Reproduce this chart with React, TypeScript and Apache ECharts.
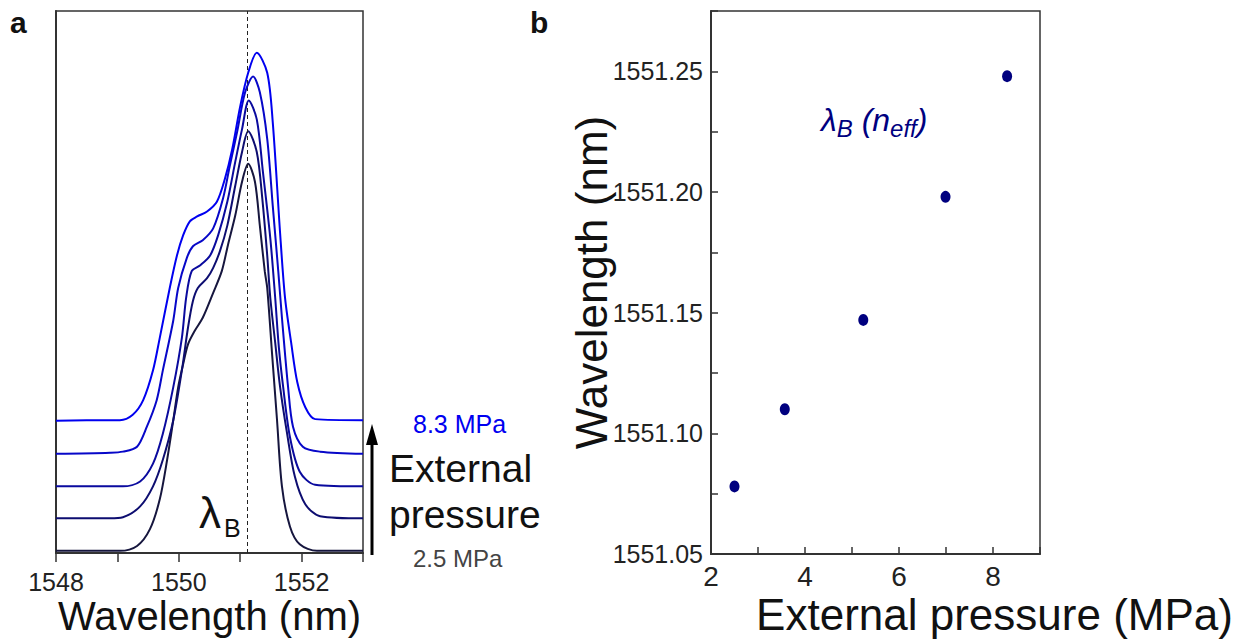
import React, { useEffect, useRef } from 'react';
import * as echarts from 'echarts';

// Panel a: reflection spectra (wavelength nm, arbitrary vertically offset intensity)
const spec25: [number, number][] = [
  [1548.0, 0.4], [1548.88, 0.4], [1549.04, 0.4], [1549.32, 1.3], [1549.53, 4.4], [1549.69, 9.9],
  [1549.81, 17.2], [1549.91, 24.5], [1549.99, 30.6], [1550.07, 34.8], [1550.15, 38.5], [1550.26, 41.0],
  [1550.39, 43.4], [1550.56, 48.0], [1550.7, 52.0], [1550.8, 56.8], [1550.92, 62.3], [1551.03, 68.5],
  [1551.13, 71.8], [1551.24, 68.5], [1551.32, 60.4], [1551.4, 52.0], [1551.44, 48.9], [1551.52, 36.6],
  [1551.6, 24.5], [1551.68, 12.3], [1551.81, 4.9], [1551.97, 1.6], [1552.25, 0.4], [1553.0, 0.4],
];
const spec36: [number, number][] = [
  [1548.0, 6.4], [1548.88, 6.4], [1549.09, 6.6], [1549.37, 8.6], [1549.58, 12.3], [1549.74, 17.2],
  [1549.91, 24.5], [1550.05, 33.7], [1550.15, 41.6], [1550.23, 46.5], [1550.31, 48.9], [1550.46, 50.7],
  [1550.56, 52.6], [1550.67, 55.7], [1550.79, 60.4], [1550.92, 67.8], [1551.03, 74.0], [1551.13, 77.8],
  [1551.27, 74.0], [1551.36, 65.4], [1551.44, 54.9], [1551.49, 47.1], [1551.57, 38.8], [1551.65, 30.6],
  [1551.76, 22.3], [1551.89, 14.1], [1552.06, 9.0], [1552.3, 6.8], [1553.0, 6.4],
];
const spec52: [number, number][] = [
  [1548.0, 12.3], [1548.88, 12.3], [1549.09, 12.3], [1549.37, 13.2], [1549.58, 16.5], [1549.74, 22.0],
  [1549.91, 30.6], [1550.05, 39.7], [1550.12, 47.1], [1550.21, 52.0], [1550.35, 53.1], [1550.51, 54.9],
  [1550.64, 58.6], [1550.79, 64.8], [1550.92, 72.2], [1551.03, 78.2], [1551.14, 83.5], [1551.27, 80.0],
  [1551.37, 70.3], [1551.49, 58.1], [1551.57, 47.1], [1551.63, 37.9], [1551.7, 30.6], [1551.81, 21.4],
  [1551.97, 15.0], [1552.22, 12.6], [1553.0, 12.3],
];
const spec70: [number, number][] = [
  [1548.0, 18.3], [1548.88, 18.5], [1549.09, 18.7], [1549.32, 19.6], [1549.48, 23.3], [1549.64, 28.2],
  [1549.74, 33.7], [1549.91, 42.9], [1549.99, 48.9], [1550.13, 54.4], [1550.23, 56.6], [1550.39, 57.7],
  [1550.56, 59.9], [1550.72, 65.4], [1550.83, 71.4], [1550.95, 77.7], [1551.08, 85.0], [1551.21, 87.9],
  [1551.32, 85.0], [1551.44, 76.4], [1551.53, 64.1], [1551.62, 52.0], [1551.68, 43.4], [1551.78, 30.6],
  [1551.86, 23.3], [1552.02, 19.6], [1552.3, 18.7], [1553.0, 18.3],
];
const spec83: [number, number][] = [
  [1548.0, 24.4], [1548.88, 24.5], [1549.04, 24.5], [1549.25, 25.5], [1549.42, 28.2], [1549.58, 33.7],
  [1549.69, 39.7], [1549.86, 49.3], [1549.97, 54.9], [1550.07, 58.6], [1550.18, 61.2], [1550.3, 62.1],
  [1550.46, 63.0], [1550.62, 64.8], [1550.75, 69.0], [1550.87, 74.5], [1551.0, 82.4], [1551.13, 88.6],
  [1551.27, 92.3], [1551.44, 88.6], [1551.53, 79.5], [1551.65, 59.0], [1551.73, 47.1], [1551.83, 38.8],
  [1551.93, 31.5], [1552.06, 26.9], [1552.22, 24.7], [1553.0, 24.5],
];
const spectra = [spec25, spec36, spec52, spec70, spec83];
const spectraNames = ['2.5 MPa', '3.6 MPa', '5.2 MPa', '7.0 MPa', '8.3 MPa'];
const spectraColors = ['#16163e', '#0d0d70', '#0a0a9e', '#0707c8', '#0000f0'];
const braggMarker = 1551.11;

// Panel b: Bragg wavelength vs external pressure
const pressure = [2.5, 3.57, 5.24, 6.99, 8.3];
const braggWavelength = [1551.078, 1551.11, 1551.147, 1551.198, 1551.248];

const FONT = "'Liberation Sans', Arial, sans-serif";

export default function App() {
  const ref = useRef<HTMLDivElement>(null);
  useEffect(() => {
    if (!ref.current) return;
    const chart = echarts.init(ref.current, undefined, { renderer: 'svg' });
    const axisColor = '#333';
    const lineSeries = spectra.map((d, i) => ({
      type: 'line',
      name: spectraNames[i],
      xAxisIndex: 0,
      yAxisIndex: 0,
      data: d,
      showSymbol: false,
      smooth: 0.3,
      lineStyle: { color: spectraColors[i], width: 2 },
      z: 3 + i,
      markLine: i === 0 ? {
        silent: true,
        symbol: ['none', 'none'],
        label: { show: false },
        lineStyle: { type: [4, 3], color: '#222', width: 1 },
        data: [{ xAxis: braggMarker }],
      } : undefined,
    }));
    const texts = (items: any[]) => items.map((t) => ({
      type: 'text',
      x: t.x,
      y: t.y,
      silent: true,
      style: {
        text: t.text,
        font: t.font,
        fill: t.fill || '#111',
        align: 'left',
        verticalAlign: 'middle',
        textAlign: 'left',
        textVerticalAlign: 'middle',
      },
    }));
    chart.setOption({
      animation: false,
      backgroundColor: '#fff',
      grid: [
        { left: 56, top: 11, width: 307, height: 546, show: true, borderColor: axisColor, borderWidth: 1.5, backgroundColor: 'transparent' },
        { left: 711, top: 11, width: 329, height: 548, show: true, borderColor: axisColor, borderWidth: 1.5, backgroundColor: 'transparent' },
      ],
      xAxis: [
        {
          type: 'value', gridIndex: 0, min: 1548, max: 1553, interval: 1,
          axisLine: { lineStyle: { color: axisColor, width: 2 } },
          axisTick: { show: true, inside: false, length: 9, lineStyle: { color: axisColor, width: 1.5 } },
          axisLabel: {
            formatter: (v: number) => (Math.round(v) % 2 === 0 ? String(Math.round(v)) : ''),
            fontSize: 25, color: '#222', margin: 16, fontFamily: FONT,
          },
          splitLine: { show: false },
          name: 'Wavelength (nm)', nameLocation: 'middle', nameGap: 43, nameMoveOverlap: false,
          nameTextStyle: { fontSize: 40, color: '#111', fontFamily: FONT },
        },
        {
          type: 'value', gridIndex: 1, min: 2, max: 9, interval: 1,
          axisLine: { lineStyle: { color: axisColor, width: 2 } },
          axisTick: { show: true, inside: true, length: 7, lineStyle: { color: axisColor, width: 1.5 } },
          axisLabel: {
            formatter: (v: number) => (Math.round(v) % 2 === 0 && v < 9 ? String(Math.round(v)) : ''),
            fontSize: 28, color: '#222', margin: 8, fontFamily: FONT,
          },
          splitLine: { show: false },
          name: 'External pressure (MPa)', nameLocation: 'middle', nameGap: 38, nameMoveOverlap: false,
          nameTextStyle: { fontSize: 44, color: '#111', fontFamily: FONT, padding: [0, 0, 0, 238] },
        },
      ],
      yAxis: [
        {
          type: 'value', gridIndex: 0, min: 0, max: 100,
          axisLine: { show: true, lineStyle: { color: axisColor, width: 2 } },
          axisTick: { show: false }, axisLabel: { show: false }, splitLine: { show: false },
        },
        {
          type: 'value', gridIndex: 1, min: 1551.05, max: 1551.275, interval: 0.025,
          axisLine: { show: true, lineStyle: { color: axisColor, width: 2 } },
          axisTick: { show: true, inside: true, length: 7, lineStyle: { color: axisColor, width: 1.5 } },
          axisLabel: {
            formatter: (v: number) => (Math.round(v * 1000) % 50 === 0 ? v.toFixed(2) : ''),
            fontSize: 25, color: '#222', margin: 8, fontFamily: FONT,
          },
          splitLine: { show: false },
          name: 'Wavelength (nm)', nameLocation: 'middle', nameGap: 98, nameMoveOverlap: false,
          nameTextStyle: { fontSize: 44, color: '#111', fontFamily: FONT },
        },
      ],
      series: [
        ...lineSeries,
        {
          type: 'scatter', name: 'λB', xAxisIndex: 1, yAxisIndex: 1,
          data: pressure.map((p, i) => [p, braggWavelength[i]]),
          symbol: 'circle', symbolSize: [10, 12],
          itemStyle: { color: '#00007f', opacity: 1 },
        },
      ],
      graphic: [
        ...texts([
          { x: 10, y: 22, text: 'a', font: `bold 30px ${FONT}` },
          { x: 530, y: 22, text: 'b', font: `bold 30px ${FONT}` },
          { x: 199, y: 512, text: 'λ', font: `44px ${FONT}` },
          { x: 224, y: 528, text: 'B', font: `25px ${FONT}` },
          { x: 413, y: 424, text: '8.3 MPa', font: `25px ${FONT}`, fill: '#0000f0' },
          { x: 389, y: 468, text: 'External', font: `39px ${FONT}` },
          { x: 389, y: 514, text: 'pressure', font: `39px ${FONT}` },
          { x: 413, y: 558, text: '2.5 MPa', font: `24px ${FONT}`, fill: '#444' },
        ]),
        {
          type: 'text', x: 821, y: 100, silent: true,
          style: {
            text: '{m|λ}{s|B}{m| (n}{s|eff}{m|)}',
            align: 'left', verticalAlign: 'top', textAlign: 'left', textVerticalAlign: 'top',
            fill: '#00007f',
            font: `italic 32px ${FONT}`,
            rich: {
              m: { font: `italic 32px ${FONT}`, fill: '#00007f', lineHeight: 40 },
              s: { font: `italic 24px ${FONT}`, fill: '#00007f', lineHeight: 14, verticalAlign: 'bottom' },
            },
          },
        },
        {
          type: 'line', silent: true,
          shape: { x1: 372, y1: 555, x2: 372, y2: 440 },
          style: { stroke: '#000', lineWidth: 3 },
        },
        {
          type: 'polygon', silent: true,
          shape: { points: [[372, 424], [366, 445], [378, 445]] },
          style: { fill: '#000' },
        },
      ],
    });
    return () => chart.dispose();
  }, []);
  return (
    <div
      ref={ref}
      style={{ position: 'fixed', left: 0, top: 0, width: 1247, height: 641, background: '#fff' }}
    />
  );
}
